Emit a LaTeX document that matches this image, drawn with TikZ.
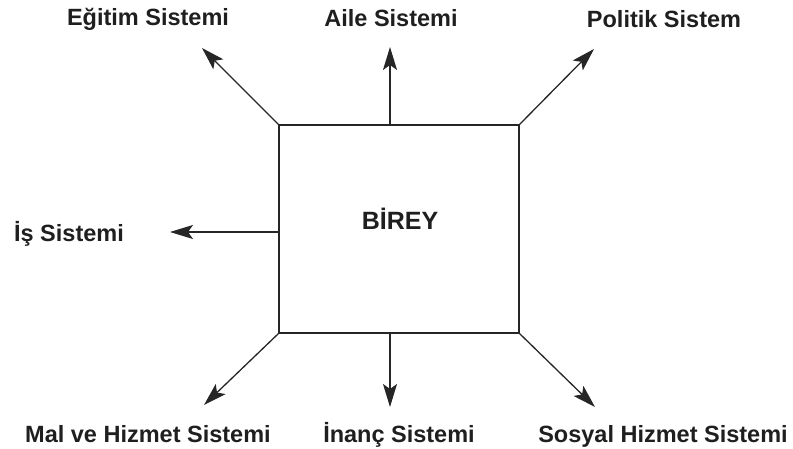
\documentclass[tikz,border=0pt]{standalone}
\usepackage{fontspec}
\setmainfont{Liberation Sans}
\usetikzlibrary{arrows.meta}
\begin{document}
\begin{tikzpicture}[x=1pt,y=-1pt,
  lbl/.style={font=\fontsize{23.5}{25}\selectfont\bfseries, inner sep=0pt, anchor=base, text=black!88},
  conn/.style={draw=black!85, line width=1.3pt, -{Stealth[length=23pt,width=14pt,inset=5pt]}},
  person/.style={draw=black!85, line width=1.3pt, minimum width=240pt, minimum height=208pt, inner sep=0pt}]
\useasboundingbox (0,0) rectangle (793,449);
\node[person] (b) at (399,229) {};
\node[lbl, font=\fontsize{25}{27}\selectfont\bfseries] (bt) at (400,230) {BİREY};
\coordinate (e) at (202,48);
\coordinate (a) at (390,47);
\coordinate (p) at (594,49);
\coordinate (i) at (170,232);
\coordinate (m) at (204,405);
\coordinate (n) at (390,407);
\coordinate (s) at (595,407);
\draw[conn] (b.north west) -- (e);
\draw[conn] (b.north -| a) -- (a);
\draw[conn] (b.north east) -- (p);
\draw[conn] (b.west |- i) -- (i);
\draw[conn] (b.south west) -- (m);
\draw[conn] (b.south -| n) -- (n);
\draw[conn] (b.south east) -- (s);
\node[lbl] (le) at (148,26) {Eğitim Sistemi};
\node[lbl] (la) at (391,27) {Aile Sistemi};
\node[lbl] (lp) at (664,28) {Politik Sistem};
\node[lbl] (li) at (69,242) {İş Sistemi};
\node[lbl] (lm) at (148,442) {Mal ve Hizmet Sistemi};
\node[lbl] (ln) at (399,442) {İnanç Sistemi};
\node[lbl] (ls) at (663,442) {Sosyal Hizmet Sistemi};
\end{tikzpicture}
\end{document}
